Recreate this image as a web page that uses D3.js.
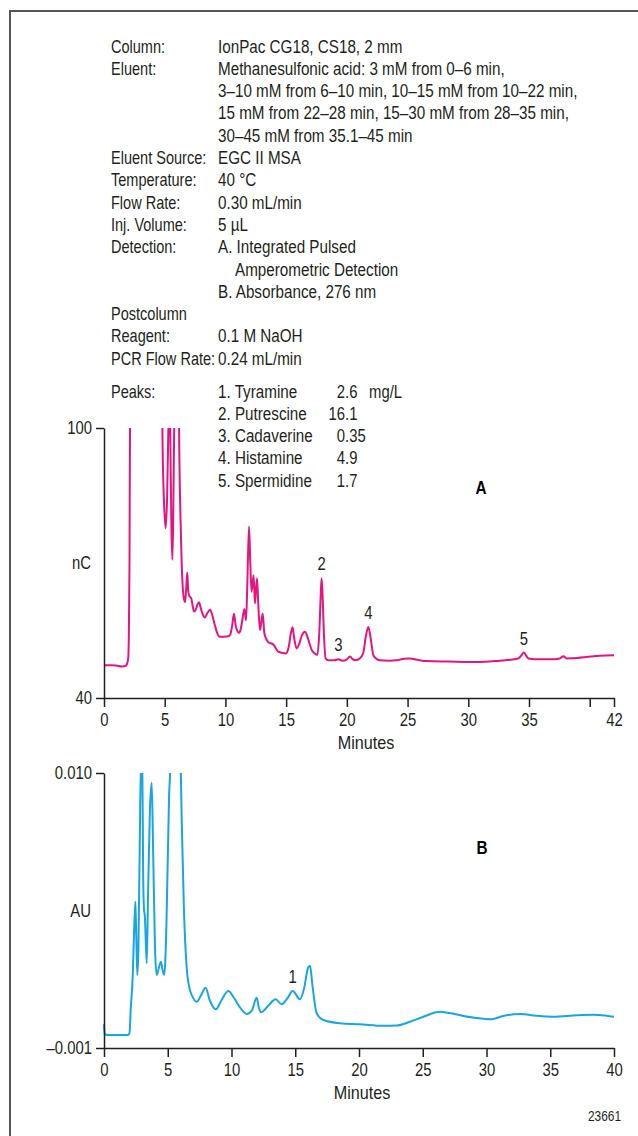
<!DOCTYPE html>
<html>
<head>
<meta charset="utf-8">
<script src="https://cdn.jsdelivr.net/npm/d3@7"></script>
<style>
  html, body { margin: 0; padding: 0; background: #fff; }
  svg { display: block; }
</style>
</head>
<body>
<svg id="chart" width="638" height="1136"></svg>
<script>
// ---- Method conditions ----
const conditionLabels = ["Column:", "Eluent:", "", "", "", "Eluent Source:", "Temperature:", "Flow Rate:",
  "Inj. Volume:", "Detection:", "", "", "Postcolumn", "Reagent:", "PCR Flow Rate:"];
const conditionValues = ["IonPac CG18, CS18, 2 mm",
  "Methanesulfonic acid: 3 mM from 0–6 min,",
  "3–10 mM from 6–10 min, 10–15 mM from 10–22 min,",
  "15 mM from 22–28 min, 15–30 mM from 28–35 min,",
  "30–45 mM from 35.1–45 min",
  "EGC II MSA", "40 °C", "0.30 mL/min", "5 µL",
  "A. Integrated Pulsed", "Amperometric Detection", "B. Absorbance, 276 nm",
  "", "0.1 M NaOH", "0.24 mL/min"];
const conditionIndent = [0, 0, 0, 0, 0, 0, 0, 0, 0, 0, 1, 0, 0, 0, 0];

// ---- Peak table ----
const peakNames = ["1. Tyramine", "2. Putrescine", "3. Cadaverine", "4. Histamine", "5. Spermidine"];
const peakConc = ["2.6", "16.1", "0.35", "4.9", "1.7"];
const concUnit = "mg/L";

// ---- Chromatogram A: integrated pulsed amperometric detection (min, nC) ----
const timeA = [0, 0.5, 1.0, 1.5, 1.75, 1.9, 2.0, 2.05, 2.1, 2.15, 3.0, 4.7, 4.78, 4.85, 4.95, 5.08, 5.2, 5.3, 5.37,
  5.45, 5.55, 5.63, 5.7, 5.8, 6.0, 6.15, 6.2, 6.3, 6.39, 6.5, 6.6, 6.68, 6.76, 6.86, 6.93, 7.0, 7.2, 7.3, 7.41,
  7.55, 7.7, 7.82, 7.95, 8.1, 8.31, 8.5, 8.73, 8.9, 9.1, 9.3, 9.55, 9.9, 10.24, 10.4, 10.55, 10.7, 10.85, 11.0,
  11.1, 11.25, 11.4, 11.56, 11.7, 11.8, 11.94, 12.05, 12.15, 12.32, 12.43, 12.6, 12.72, 12.85, 13.07, 13.2,
  13.35, 13.53, 13.94, 14.35, 14.7, 14.99, 15.2, 15.4, 15.53, 15.65, 15.86, 16.08, 16.3, 16.55, 16.8, 17.1,
  17.35, 17.57, 17.72, 17.85, 17.92, 18.0, 18.1, 18.25, 18.47, 19.0, 19.3, 19.65, 20.0, 20.26, 20.5, 20.7,
  21.1, 21.35, 21.55, 21.77, 21.95, 22.17, 22.4, 22.7, 23.5, 24.1, 24.7, 25.2, 25.8, 26.57, 28.4, 30.7, 32.6,
  33.5, 34.12, 34.35, 34.58, 34.8, 34.94, 36.0, 36.73, 37.55, 37.83, 38.1, 39.0, 39.75, 40.84, 42.0];
const signalA = [47.3, 47.3, 47.2, 47.0, 47.1, 47.6, 49, 55, 70, 105, 140, 140, 105, 92, 83, 77.7, 85, 100, 110,
  100, 78, 70.7, 80, 105, 130, 110, 95, 80, 70.7, 64, 61.8, 61.3, 64, 67.9, 64, 62.9, 62.0, 60.5, 59.2,
  59.6, 60.8, 61.3, 60.2, 58.8, 57.9, 58.8, 59.6, 58.6, 56.5, 54.6, 53.6, 53.6, 53.7, 54.1, 56, 58.7, 56, 54.8,
  54.5, 55.2, 57.5, 59.8, 57.3, 65, 78.1, 70, 63.6, 67.3, 61.0, 66.6, 60, 55.1, 58.8, 54.5,
  53.2, 52.4, 51.9, 50.3, 50.0, 49.9, 51.2, 54.5, 55.7, 53.5, 51.0, 52.1, 53.9, 54.7, 53.2, 50.7,
  49.9, 49.6, 54, 63, 66.6, 63, 55, 48.8, 48.4, 48.4, 48.6, 48.3, 48.6, 49.2, 48.6, 48.4,
  48.9, 50, 53.5, 55.8, 53.5, 49.6, 48.8, 48.4, 48.3, 48.4, 48.7, 48.8, 48.5, 48.2, 48.1, 48.0, 48.3,
  48.5, 48.8, 49.4, 50.1, 49.3, 48.8, 48.6, 48.6, 48.8, 49.3, 48.8, 48.9, 49.1, 49.4, 49.5];

// ---- Chromatogram B: absorbance at 276 nm (min, AU) ----
const timeB = [0, 0.05, 0.3, 1.0, 1.9, 2.0, 2.1, 2.25, 2.35, 2.46, 2.53, 2.61, 2.7, 2.8, 2.9, 3.0, 3.07, 3.14,
  3.2, 3.35, 3.45, 3.6, 3.74, 3.85, 4.0, 4.13, 4.3, 4.47, 4.6, 4.73, 4.9, 5.1, 5.23, 5.6, 6.01, 6.1, 6.27, 6.48,
  6.7, 6.88, 7.27, 7.6, 7.97, 8.3, 8.78, 9.2, 9.75, 10.2, 10.7, 11.19, 11.6, 11.97, 12.15, 12.31, 12.9, 13.46,
  13.93, 14.4, 14.8, 15.37, 15.7, 16.0, 16.16, 16.35, 16.68, 17.2, 18.5, 20.08, 21.9, 22.95, 24.0, 25.05,
  26.35, 27.1, 28.18, 29.2, 30.4, 31.3, 32.63, 33.9, 35.24, 37.1, 38.4, 39.4, 40];
const signalB = [-0.00005, -0.00045, -0.00048, -0.00048, -0.00048, -0.0004, 0.0006, 0.00185, 0.0035, 0.00485,
  0.0035, 0.00192, 0.003, 0.007, 0.0105, 0.0105, 0.006, 0.00452, 0.0043, 0.00239, 0.005, 0.0085, 0.00961,
  0.007, 0.003, 0.00192, 0.0022, 0.00245, 0.0021, 0.00193, 0.004, 0.009, 0.0105, 0.02, 0.0105, 0.008, 0.00452,
  0.00225, 0.0014, 0.00112, 0.00085, 0.0011, 0.00141, 0.0009, 0.00055, 0.0009, 0.00128, 0.001, 0.0006,
  0.00036, 0.0005, 0.00101, 0.0006, 0.00043, 0.0007, 0.00095, 0.00075, 0.001, 0.00128, 0.00095, 0.0014,
  0.0022, 0.00229, 0.0015, 0.00039, 0.00012, -0.00001, -0.00005, -0.00011, -0.0001, 0.00005, 0.00025,
  0.00045, 0.0004, 0.00028, 0.0002, 0.00015, 0.00028, 0.00036, 0.00029, 0.00025, 0.00031, 0.00033, 0.00029,
  0.00025];

// ---- Axis ticks ----
const xTicksA = [0, 5, 10, 15, 20, 25, 30, 35, 40, 42];
const xTickLabelsA = ["0", "5", "10", "15", "20", "25", "30", "35", "", "42"];
const yTicksA = [40, 100];
const yTickLabelsA = ["40", "100"];
const xTicksB = [0, 5, 10, 15, 20, 25, 30, 35, 40];
const xTickLabelsB = ["0", "5", "10", "15", "20", "25", "30", "35", "40"];
const yTicksB = [-0.001, 0.010];
const yTickLabelsB = ["–0.001", "0.010"];

// ---- Numbered peaks ----
const peakLabelsA = ["2", "3", "4", "5"];
const peakTimesA = [17.92, 19.3, 21.77, 34.58];
const peakLabelsB = ["1"];
const peakTimesB = [14.8];

// Condensed type: a regular sans squeezed horizontally
const FONT = "'Liberation Sans', Arial, sans-serif";
const SX = 0.85;
const SX_LABEL = 0.83;
const SX_VALUE = 0.87;
const FS = 17.5;
const TEXT = "#231f20";

const svg = d3.select("#chart");

function label(parent, x, y, str, o = {}) {
  const g = parent.append("g").attr("transform", `translate(${x},${y}) scale(${o.sx || SX},1)`);
  return g.append("text")
    .attr("font-family", FONT).attr("font-size", o.size || FS)
    .attr("font-weight", o.weight || "normal")
    .attr("fill", o.fill || TEXT)
    .attr("text-anchor", o.anchor || "start")
    .text(str);
}

// Frame
svg.append("path")
  .attr("d", "M10,1136 V11 H638")
  .attr("fill", "none").attr("stroke", "#555").attr("stroke-width", 2);

// Conditions block
const info = svg.append("g");
const lineH = 22.3, top0 = 52.5;
conditionLabels.forEach((lab, i) => {
  const y = top0 + i * lineH;
  if (lab) label(info, 111, y, lab, { sx: SX_LABEL });
  if (conditionValues[i]) label(info, 218 + conditionIndent[i] * 17, y, conditionValues[i], { sx: SX_VALUE });
});
const peaksTop = 397.5;
label(info, 111, peaksTop, "Peaks:", { sx: SX_LABEL });
peakNames.forEach((name, i) => {
  const y = peaksTop + i * lineH;
  label(info, 218, y, name, { sx: SX_VALUE });
  const [ip, fp] = peakConc[i].split(".");
  label(info, 345, y, ip, { anchor: "end" });
  label(info, 345, y, "." + fp);
});
label(info, 369, peaksTop, concUnit);

// Draws one chromatogram panel
function panel(opts) {
  const { times, values, xDomain, yDomain, top, bottom, color, xTicks, xLabels, yTicks, yLabels,
          yTitle, letter, letterPos, peakLabels, peakTimes, titleX } = opts;
  const left = 104, right = 614;
  const x = d3.scaleLinear().domain(xDomain).range([left, right]);
  const y = d3.scaleLinear().domain(yDomain).range([bottom, top]);
  const g = svg.append("g");
  const id = "clip" + letter;
  svg.append("clipPath").attr("id", id)
    .append("rect").attr("x", left - 2).attr("y", top).attr("width", right - left + 6).attr("height", bottom - top + 6);

  const pts = times.map((t, i) => [t, values[i]]);
  const line = d3.line().x(d => x(d[0])).y(d => y(d[1])).curve(d3.curveMonotoneX);
  g.append("path").datum(pts)
    .attr("clip-path", `url(#${id})`)
    .attr("d", line)
    .attr("fill", "none").attr("stroke", color).attr("stroke-width", 2)
    .attr("stroke-linejoin", "round");

  const xAxis = d3.axisBottom(x).tickValues(xTicks).tickSize(9).tickSizeOuter(0).tickPadding(7)
    .tickFormat((d, i) => xLabels[i]);
  const gx = g.append("g").attr("transform", `translate(0,${bottom})`).call(xAxis);
  const yAxis = d3.axisLeft(y).tickValues(yTicks).tickSize(8).tickSizeOuter(0).tickPadding(4)
    .tickFormat((d, i) => yLabels[i]);
  const gy = g.append("g").attr("transform", `translate(${left},0)`).call(yAxis);
  [gx, gy].forEach(a => {
    a.attr("font-family", FONT).attr("font-size", FS);
    a.selectAll("path, line").attr("stroke", "#231f20").attr("stroke-width", 1.5);
    a.selectAll("text").attr("fill", TEXT);
  });
  gx.selectAll("text").attr("transform", `scale(${SX},1)`);
  gy.selectAll("text").attr("x", -12 / SX).attr("transform", `scale(${SX},1)`);

  label(g, titleX, bottom + 51, "Minutes", { anchor: "middle", size: 18, sx: 0.9 });
  label(g, 91, (top + bottom) / 2 + 6, yTitle, { anchor: "end" });
  label(g, letterPos[0], letterPos[1], letter, { anchor: "middle", size: 18, weight: "bold", fill: "#000" });

  peakLabels.forEach((lab, i) => {
    const t = peakTimes[i];
    const k = d3.minIndex(times, tt => Math.abs(tt - t));
    label(g, x(t), y(values[k]) - 8, lab, { anchor: "middle" });
  });
}

panel({
  times: timeA, values: signalA, xDomain: [0, 42], yDomain: [40, 100], top: 428, bottom: 698,
  color: "#e5157f", xTicks: xTicksA, xLabels: xTickLabelsA, yTicks: yTicksA, yLabels: yTickLabelsA,
  yTitle: "nC", letter: "A", letterPos: [481, 494], peakLabels: peakLabelsA, peakTimes: peakTimesA, titleX: 366
});
panel({
  times: timeB, values: signalB, xDomain: [0, 40], yDomain: [-0.001, 0.010], top: 773, bottom: 1048,
  color: "#18a6e0", xTicks: xTicksB, xLabels: xTickLabelsB, yTicks: yTicksB, yLabels: yTickLabelsB,
  yTitle: "AU", letter: "B", letterPos: [482, 854], peakLabels: peakLabelsB, peakTimes: peakTimesB, titleX: 362
});

label(svg, 621, 1121, "23661", { anchor: "end", size: 14 });
</script>
</body>
</html>
